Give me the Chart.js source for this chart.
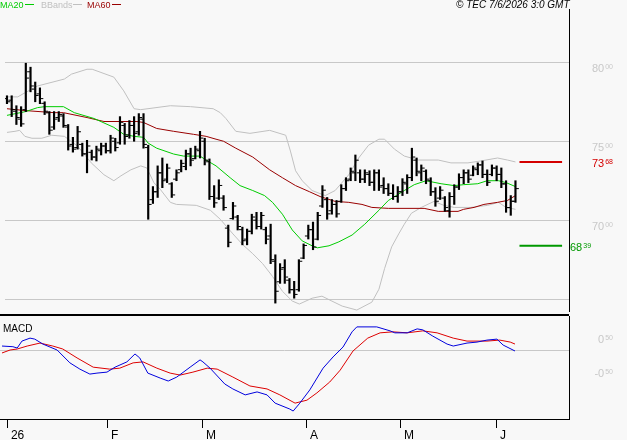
<!DOCTYPE html>
<html>
<head>
<meta charset="utf-8">
<script src="https://cdn.jsdelivr.net/npm/chart.js@4.4.1/dist/chart.umd.min.js"></script>
<style>
  html, body { margin: 0; padding: 0; background: #f8f8f8; }
  #wrap { position: relative; width: 627px; height: 440px; overflow: hidden; }
  canvas { position: absolute; left: 0; }
  #priceChart { top: 0; }
  #macdChart { top: 316px; }
</style>
</head>
<body>
<div id="wrap">
  <canvas id="priceChart" width="627" height="316"></canvas>
  <canvas id="macdChart" width="627" height="124"></canvas>
</div>
<script>
// daily bars, one per trading day (31 Dec 2025 .. 5 Jun 2026)
const openPx = [
  77.70, 77.60, 76.90, 76.40, 77.00, 79.40, 78.30, 78.00, 77.40, 76.80,
  75.90, 76.50, 76.60, 75.90, 74.80, 74.60, 74.80, 74.20, 74.30, 74.00,
  74.40, 74.70, 74.40, 75.00, 74.90, 76.00, 75.40, 76.00, 75.60, 76.40,
  74.60, 71.30, 71.80, 73.00, 72.60, 72.30, 72.60, 73.20, 73.40, 74.20,
  73.90, 74.40, 75.00, 73.70, 71.50, 71.40, 71.40, 69.50, 70.10, 70.20,
  69.40, 68.80, 69.30, 70.00, 69.60, 69.40, 69.00, 67.40, 66.10, 67.00,
  66.20, 65.60, 65.60, 67.60, 69.00, 69.40, 68.80, 70.90, 71.30, 70.60,
  71.00, 71.20, 72.00, 72.60, 73.00, 73.00, 72.60, 72.90, 72.40, 73.00,
  72.20, 72.00, 71.70, 71.50, 71.80, 72.30, 72.70, 73.80, 73.00, 73.10,
  72.50, 71.80, 71.40, 71.40, 70.60, 71.50, 72.10, 72.70, 73.00, 72.85,
  73.20, 73.50, 72.90, 72.90, 73.30, 72.90, 72.30, 70.80, 71.20
];
const highPx = [
  77.88, 77.88, 77.25, 77.19, 79.94, 79.69, 78.75, 78.38, 77.50, 76.88,
  76.88, 76.88, 76.75, 76.06, 75.25, 75.94, 74.88, 75.06, 74.44, 74.69,
  74.88, 74.88, 75.38, 75.19, 76.56, 76.13, 76.31, 76.56, 76.75, 76.75,
  74.75, 72.13, 73.44, 73.94, 73.56, 72.38, 73.19, 73.81, 74.44, 74.56,
  74.69, 75.63, 75.19, 73.88, 72.19, 72.56, 71.56, 69.69, 71.13, 70.31,
  69.56, 69.44, 70.38, 70.50, 70.50, 69.56, 69.75, 67.81, 67.25, 67.50,
  66.31, 66.13, 67.50, 68.50, 69.69, 69.88, 70.50, 72.19, 71.44, 71.31,
  71.25, 72.25, 72.69, 73.31, 74.13, 73.19, 73.19, 73.13, 73.19, 73.19,
  72.69, 72.31, 72.25, 72.13, 72.63, 72.88, 74.56, 73.94, 73.50, 73.19,
  72.69, 72.06, 72.13, 71.50, 71.75, 72.25, 72.94, 73.19, 73.19, 73.44,
  73.63, 73.75, 73.19, 73.50, 73.44, 73.31, 72.50, 71.56, 72.50
];
const lowPx = [
  77.38, 76.56, 76.06, 75.94, 76.88, 78.13, 77.50, 77.38, 76.69, 75.44,
  75.75, 76.25, 75.88, 74.44, 74.31, 74.50, 74.06, 73.00, 73.81, 73.75,
  74.13, 74.25, 74.25, 74.38, 74.81, 74.81, 75.19, 75.00, 75.38, 74.56,
  70.06, 71.06, 71.44, 72.06, 72.38, 71.44, 72.50, 73.06, 73.19, 73.44,
  73.88, 73.94, 73.50, 71.31, 70.81, 71.31, 70.63, 68.31, 70.06, 69.38,
  68.44, 68.44, 69.13, 69.44, 69.44, 68.50, 67.25, 64.75, 66.00, 66.00,
  65.38, 65.06, 65.50, 67.56, 68.81, 68.13, 68.75, 70.81, 70.06, 70.38,
  70.19, 71.13, 71.88, 72.50, 72.50, 72.38, 72.38, 72.19, 71.88, 71.88,
  71.69, 71.56, 71.31, 71.13, 71.56, 71.69, 72.50, 72.81, 72.50, 72.31,
  71.56, 70.88, 71.31, 70.56, 70.19, 71.00, 71.94, 72.31, 72.38, 72.81,
  72.88, 72.69, 72.19, 72.81, 72.50, 72.06, 70.50, 70.31, 71.13
];
const closePx = [
  77.50, 77.00, 76.50, 76.10, 79.00, 78.50, 77.90, 77.70, 76.90, 75.70,
  76.40, 76.70, 76.00, 74.70, 74.50, 75.60, 74.20, 74.70, 74.00, 74.50,
  74.70, 74.40, 75.20, 74.60, 76.20, 75.30, 76.00, 75.50, 76.50, 74.80,
  71.00, 71.80, 73.00, 72.50, 73.30, 71.60, 73.00, 73.60, 74.20, 73.80,
  74.50, 75.20, 73.80, 71.50, 71.10, 72.20, 70.80, 68.60, 70.90, 69.60,
  68.70, 69.30, 70.20, 69.60, 70.30, 68.80, 67.50, 65.50, 66.90, 66.40,
  65.60, 65.30, 67.40, 68.40, 69.40, 68.30, 70.30, 71.90, 70.40, 71.00,
  70.40, 72.00, 72.50, 73.10, 73.80, 72.60, 73.00, 72.40, 73.00, 72.10,
  72.00, 71.70, 71.50, 71.80, 72.40, 72.70, 74.00, 73.10, 73.30, 72.60,
  71.80, 71.20, 71.90, 70.80, 71.50, 72.10, 72.70, 73.00, 72.60, 73.30,
  73.50, 72.90, 72.40, 73.30, 72.90, 72.30, 70.80, 71.20, 72.00
];

// indicator lines, [bar index, value]
const ma20 = [[0,76.64],[4,76.88],[6.5,77.13],[8,77.19],[12,77.19],[14.3,76.81],[18.5,76.44],[22.7,75.88],[24.8,75.44],[27,75.31],[29,75.25],[30,74.88],[31.8,74.56],[35.4,74.19],[37.5,74.06],[41,74.06],[42.3,73.81],[44.4,73.44],[47.4,72.69],[49.5,72.19],[52.2,71.88],[54.7,71.56],[56.4,71.13],[58.5,70.38],[60.6,69.38],[62.7,68.69],[64.8,68.38],[65.9,68.25],[68.4,68.38],[70.5,68.63],[73.3,69.06],[76,69.75],[79,70.63],[81,71.25],[84.4,71.88],[86.5,72.25],[89,72.50],[92.2,72.31],[95,72.19],[97,72.25],[100,72.31],[102,72.50],[104.4,72.50],[106,72.38],[108,72.13]];
const ma60 = [[0,77.06],[4,76.94],[10,76.81],[12,76.81],[17,76.50],[20.6,76.25],[27.6,76.25],[29,76.19],[31.8,75.81],[35.4,75.63],[39.6,75.44],[42.3,75.31],[44.4,75.13],[46,75.00],[48.6,74.56],[52.2,74.00],[55.8,73.19],[58.5,72.69],[61.3,72.19],[64.2,71.81],[66.5,71.50],[69.7,71.19],[72.6,71.13],[75.4,71.00],[77.5,70.81],[81,70.75],[88.6,70.75],[91.6,70.56],[95.8,70.56],[97,70.69],[99.2,70.81],[101.3,71.00],[104.2,71.13],[106.3,71.25],[108,71.56]];
const bbUpper = [[0,77.81],[2.3,77.81],[3.4,78.00],[6.5,78.50],[12.2,78.94],[13.7,79.25],[17,79.56],[18.1,79.56],[22.7,79.06],[24.8,78.19],[27,77.06],[28.4,77.00],[34.7,77.25],[39,77.19],[43.8,77.06],[45.3,76.81],[46.5,76.44],[48.6,75.63],[51.6,75.50],[55.8,75.69],[59.2,75.38],[60.2,74.38],[61.3,73.13],[62.7,72.50],[64.8,71.88],[67.6,71.56],[69.7,71.88],[72.6,72.88],[74.7,73.94],[76.8,74.75],[79,75.13],[80.2,75.13],[82.3,74.50],[84.4,74.06],[87.4,73.81],[91.6,73.81],[94.3,73.63],[97.9,73.63],[100.6,73.75],[104.2,73.94],[106.3,73.81],[108,73.69]];
const bbLower = [[0,75.56],[1.7,75.63],[2.7,75.69],[3.8,75.31],[5.3,75.19],[7.4,75.19],[9.5,75.38],[12.2,75.31],[15,74.69],[17.9,73.63],[20.6,72.88],[22.7,72.50],[24.2,72.81],[26.3,73.19],[28.4,73.44],[29.7,73.31],[31.2,72.38],[32.6,71.94],[34.7,71.13],[36,71.00],[40.2,70.94],[43.2,70.63],[45.3,70.06],[48,69.13],[50.1,68.44],[52.2,67.88],[54.3,67.25],[56.4,66.44],[58.5,65.50],[60.6,64.88],[62.1,64.69],[64.8,65.06],[66.9,65.19],[69,64.88],[71.2,64.56],[74.3,64.31],[77.5,64.81],[79,65.63],[80.2,66.94],[81.7,68.31],[83.2,69.13],[84.4,69.75],[85.9,70.44],[88,70.81],[90.7,71.19],[92.8,70.94],[95,70.81],[98.5,70.81],[102.1,70.94],[104.4,71.13],[106,70.81],[108,70.69]];
const macdLine = [[0,0.12],[2.3,0.10],[3.2,0.06],[4.2,0.27],[5.9,0.36],[6.9,0.33],[8.6,0.18],[11.6,0],[14.3,-0.39],[16.4,-0.58],[18.5,-0.73],[20,-0.70],[22.1,-0.67],[23.8,-0.52],[26.3,-0.36],[28,-0.12],[29,-0.24],[30.7,-0.70],[33.3,-0.85],[35,-0.94],[36.8,-0.82],[39.6,-0.52],[41.7,-0.30],[42.3,-0.36],[43.8,-0.55],[46.9,-1.03],[48.6,-1.18],[51.2,-1.36],[53.7,-1.27],[55.8,-1.36],[57.5,-1.61],[60.6,-1.79],[61.3,-1.85],[62.7,-1.61],[64.8,-1.21],[67.6,-0.55],[69.7,-0.21],[71.8,0.09],[73.7,0.55],[74.7,0.70],[78.9,0.70],[81.7,0.58],[82.7,0.52],[85.3,0.52],[87.4,0.64],[88.6,0.61],[90.7,0.42],[93.7,0.18],[95,0.12],[97.9,0.21],[100,0.24],[102.1,0.30],[104.2,0.33],[105.5,0.15],[108,-0.03]];
const signalLine = [[0,-0.09],[1.7,0],[3.2,0.03],[5.3,0.12],[8,0.21],[10.7,0.12],[12.8,0.03],[15.8,-0.24],[19.2,-0.52],[22.7,-0.58],[24.8,-0.55],[27.6,-0.39],[29.7,-0.36],[32.6,-0.55],[35.4,-0.70],[37.5,-0.76],[40.2,-0.67],[43.2,-0.55],[45.3,-0.58],[48.6,-0.82],[52.2,-1.09],[55.8,-1.18],[58.5,-1.36],[61.7,-1.61],[64.2,-1.52],[66.3,-1.30],[69,-0.97],[71.2,-0.61],[73.9,-0.03],[77,0.36],[79.6,0.52],[82.3,0.55],[85.3,0.52],[88.6,0.58],[91.6,0.52],[95,0.36],[97.9,0.27],[102.1,0.27],[104.8,0.30],[107,0.24],[108,0.18]];

// axes / labels
const monthTicks = [1.25, 22.3, 42.3, 64.2, 84, 104.2];
const monthLabels = ['26', 'F', 'M', 'A', 'M', 'J'];
const priceGrid = [65, 70, 75, 80];
const priceLabels = [70, 75, 80];
const macdLabels = [0.5, -0.5];
const resistanceLevel = 73.68;
const supportLevel = 68.39;
const levelFrom = 108.85, levelTo = 117.9;

const X_MIN = -0.42, X_MAX = 119.37;
const TICK_SHIFT = 0.4;
const FONT = '"Liberation Sans", Arial, sans-serif';

Chart.defaults.font.family = FONT;

const toXY = pts => pts.map(p => ({ x: p[0], y: p[1] }));

// draws a price like 75.00 as big "75" + small raised "00"
function drawSplitNumber(ctx, value, x, lineY, color, topOff, alignLeft) {
  const parts = Math.abs(value).toFixed(2).split('.');
  const big = (value < 0 ? '-' : '') + parts[0];
  const small = parts[1];
  ctx.fillStyle = color;
  ctx.textBaseline = 'alphabetic';
  ctx.font = '7px ' + FONT;
  const smallW = ctx.measureText(small).width;
  ctx.font = '11px ' + FONT;
  const bigW = ctx.measureText(big).width;
  const left = alignLeft ? x : x - smallW - 1 - bigW;
  ctx.textAlign = 'left';
  ctx.fillText(big, left, lineY + topOff + 8);
  ctx.font = '7px ' + FONT;
  ctx.fillText(small, left + bigW + 1, lineY + topOff + 5);
}

const priceDecor = {
  id: 'priceDecor',
  afterDraw(chart) {
    const ctx = chart.ctx;
    const y = chart.scales.y;
    ctx.save();
    // legend
    ctx.font = '9px ' + FONT;
    ctx.textAlign = 'left';
    ctx.textBaseline = 'alphabetic';
    ctx.fillStyle = '#00cc00';
    ctx.fillText('MA20', 0, 8);
    ctx.fillRect(25, 4, 9, 1);
    ctx.fillStyle = '#c0c0c0';
    ctx.fillText('BBands', 41, 8);
    ctx.fillRect(73, 4, 9, 1);
    ctx.fillStyle = '#990000';
    ctx.fillText('MA60', 87, 8);
    ctx.fillRect(112, 4, 9, 1);
    // source stamp
    ctx.font = 'italic 10px ' + FONT;
    ctx.fillStyle = '#000';
    ctx.fillText('\u00a9 TEC 7/6/2026 3:0 GMT', 456, 8);
    // right axis labels
    priceLabels.forEach(v => drawSplitNumber(ctx, v, 613, y.getPixelForValue(v), '#c8c8c8', 2, false));
    drawSplitNumber(ctx, resistanceLevel, 613, y.getPixelForValue(resistanceLevel), '#d40000', -3, false);
    drawSplitNumber(ctx, supportLevel, 570, y.getPixelForValue(supportLevel), '#009900', -3, true);
    // separator between panels
    ctx.fillStyle = '#000';
    ctx.fillRect(0, 314, chart.chartArea.right, 2);
    ctx.restore();
  }
};

const macdDecor = {
  id: 'macdDecor',
  afterDraw(chart) {
    const ctx = chart.ctx;
    const y = chart.scales.y;
    ctx.save();
    ctx.font = '10px ' + FONT;
    ctx.textAlign = 'left';
    ctx.textBaseline = 'alphabetic';
    ctx.fillStyle = '#000';
    ctx.fillText('MACD', 3, 16);
    macdLabels.forEach(v => drawSplitNumber(ctx, v, 613, y.getPixelForValue(v), '#c8c8c8', 2, false));
    ctx.restore();
  }
};

const lineStyle = (data, color, order, width) => ({
  type: 'line', data: toXY(data), borderColor: color, borderWidth: width || 1,
  pointRadius: 0, tension: 0, fill: false, order: order
});

new Chart(document.getElementById('priceChart'), {
  data: {
    datasets: [
      { type: 'scatter', data: openPx.map((v, i) => ({ x: i - TICK_SHIFT, y: v })),
        pointStyle: 'line', pointRadius: 1.5, pointBorderWidth: 1, pointBorderColor: '#000', order: 0 },
      { type: 'scatter', data: closePx.map((v, i) => ({ x: i + TICK_SHIFT, y: v })),
        pointStyle: 'line', pointRadius: 1.5, pointBorderWidth: 1, pointBorderColor: '#000', order: 0 },
      { type: 'bar', data: highPx.map((h, i) => ({ x: i, y: [lowPx[i], h] })),
        backgroundColor: '#000', barThickness: 1.5, borderWidth: 0, order: 1 },
      lineStyle(ma20, '#00cc00', 2),
      lineStyle(ma60, '#990000', 3),
      lineStyle([[levelFrom, resistanceLevel], [levelTo, resistanceLevel]], '#d40000', 2, 2),
      lineStyle([[levelFrom, supportLevel], [levelTo, supportLevel]], '#009900', 2, 2),
      lineStyle(bbUpper, '#c0c0c0', 5),
      lineStyle(bbLower, '#c0c0c0', 5)
    ]
  },
  options: {
    responsive: false, animation: false, devicePixelRatio: 1,
    layout: { padding: { top: 9, bottom: 1, left: 0, right: 0 } },
    plugins: { legend: { display: false }, tooltip: { enabled: false } },
    scales: {
      x: { type: 'linear', min: X_MIN, max: X_MAX, offset: false, grid: { offset: false }, display: false },
      y: {
        position: 'right', min: 64.25, max: 83.375,
        afterFit: s => { s.width = 58; },
        afterBuildTicks: s => { s.ticks = priceGrid.map(v => ({ value: v })); },
        ticks: { display: false },
        grid: { color: '#c8c8c8', drawTicks: false },
        border: { display: true, color: '#000' }
      }
    }
  },
  plugins: [priceDecor]
});

new Chart(document.getElementById('macdChart'), {
  data: {
    datasets: [
      lineStyle(macdLine, '#0000dd', 1),
      lineStyle(signalLine, '#dd0000', 2)
    ]
  },
  options: {
    responsive: false, animation: false, devicePixelRatio: 1,
    layout: { padding: 0 },
    plugins: { legend: { display: false }, tooltip: { enabled: false } },
    scales: {
      x: {
        type: 'linear', min: X_MIN, max: X_MAX, position: 'bottom',
        afterBuildTicks: s => { s.ticks = monthTicks.map(v => ({ value: v })); },
        afterFit: s => { s.height = 21; },
        ticks: {
          autoSkip: false, maxRotation: 0, align: 'start', labelOffset: 3, padding: 0,
          color: '#000', font: { size: 12 },
          callback: (v, i) => monthLabels[i]
        },
        grid: { drawOnChartArea: false, drawTicks: true, tickLength: 9, color: '#000' },
        border: { display: true, color: '#000' }
      },
      y: {
        position: 'right', min: -2.0909, max: 1.0303,
        afterFit: s => { s.width = 58; },
        afterBuildTicks: s => { s.ticks = [{ value: 0 }]; },
        ticks: { display: false },
        grid: { color: '#c8c8c8', drawTicks: false },
        border: { display: true, color: '#000' }
      }
    }
  },
  plugins: [macdDecor]
});
</script>
</body>
</html>
